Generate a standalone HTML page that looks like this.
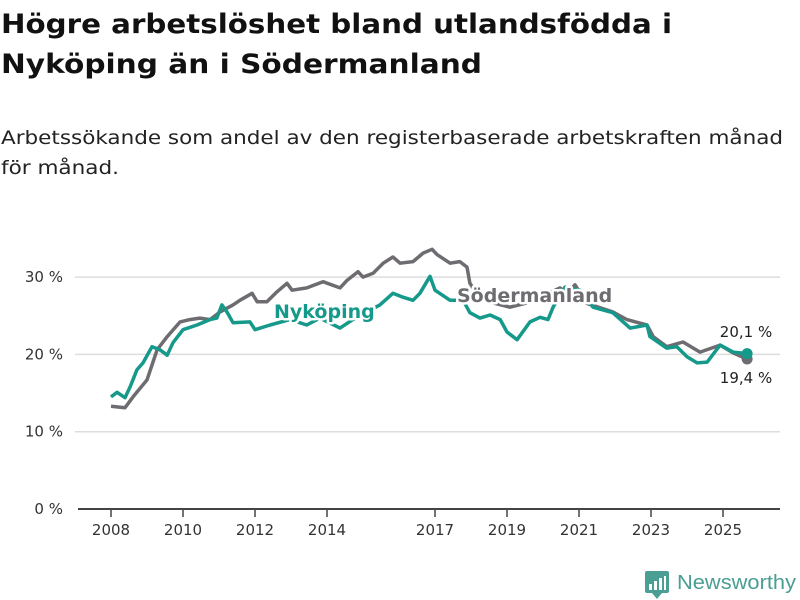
<!DOCTYPE html>
<html><head><meta charset="utf-8"><style>
body{margin:0;background:#fff;}
svg{display:block;font-family:"DejaVu Sans","Liberation Sans",sans-serif;}
.lbl{paint-order:stroke;stroke:#fff;stroke-width:5px;stroke-linejoin:round;}
</style></head><body>
<svg id="chart" width="800" height="600" viewBox="0 0 800 600">
<text x="1" y="33" font-size="27" font-weight="bold" fill="#111" textLength="671" lengthAdjust="spacingAndGlyphs">Högre arbetslöshet bland utlandsfödda i</text>
<text x="1" y="73" font-size="27" font-weight="bold" fill="#111" textLength="481" lengthAdjust="spacingAndGlyphs">Nyköping än i Södermanland</text>
<text x="1" y="144" font-size="19" fill="#222" textLength="782" lengthAdjust="spacingAndGlyphs">Arbetssökande som andel av den registerbaserade arbetskraften månad</text>
<text x="1" y="174" font-size="19" fill="#222" textLength="118" lengthAdjust="spacingAndGlyphs">för månad.</text>
<g id="grid"></g><g id="axes"></g><g id="series"></g><g id="labels"></g>
<g>
<rect x="645" y="571" width="24" height="22" rx="2" fill="#4a9e93"/>
<path d="M652 593 L657 599 L662 593 Z" fill="#4a9e93"/>
<rect x="649" y="584" width="3" height="6" fill="#fff"/><rect x="654" y="581" width="3" height="9" fill="#fff"/><rect x="659" y="578" width="3" height="12" fill="#fff"/><rect x="664" y="576" width="2" height="14" fill="#fff"/>
<text x="677" y="589" font-size="20" fill="#4a9e93" textLength="119" lengthAdjust="spacingAndGlyphs" font-family="Liberation Sans, sans-serif">Newsworthy</text>
</g>
</svg>
<script>
const yTicks=[0,10,20,30];
const yTickLabels=["0 %","10 %","20 %","30 %"];
const xTicks=[2008,2010,2012,2014,2017,2019,2021,2023,2025];
const sodYears=[2008.0,2008.39,2008.61,2009.0,2009.28,2009.56,2009.92,2010.19,2010.47,2010.75,2011.03,2011.39,2011.58,2011.92,2012.06,2012.33,2012.61,2012.89,2013.03,2013.44,2013.89,2014.36,2014.56,2014.86,2015.0,2015.28,2015.56,2015.83,2016.03,2016.39,2016.67,2016.92,2017.06,2017.42,2017.69,2017.89,2017.97,2018.25,2018.67,2019.08,2019.5,2020.06,2020.47,2020.67,2020.89,2021.22,2021.94,2022.33,2022.89,2023.06,2023.44,2023.89,2024.36,2024.92,2025.28,2025.67];
const sodValues=[13.3,13.1,14.5,16.7,20.6,22.3,24.2,24.5,24.7,24.5,25.5,26.4,27.0,27.9,26.8,26.8,28.1,29.2,28.3,28.6,29.4,28.6,29.6,30.7,30.0,30.5,31.8,32.6,31.8,32.0,33.1,33.6,32.9,31.8,32.0,31.3,29.2,27.3,26.6,26.1,26.6,27.7,28.6,27.9,29.0,26.6,25.5,24.5,23.8,22.3,21.0,21.6,20.3,21.2,20.2,19.4];
const nykYears=[2008.0,2008.17,2008.39,2008.53,2008.72,2008.89,2009.14,2009.36,2009.56,2009.72,2010.0,2010.39,2010.75,2010.94,2011.08,2011.22,2011.39,2011.86,2012.0,2012.42,2012.97,2013.44,2013.8,2014.36,2014.78,2015.47,2015.83,2016.11,2016.39,2016.58,2016.86,2017.0,2017.42,2017.78,2017.97,2018.25,2018.53,2018.81,2019.0,2019.28,2019.64,2019.92,2020.14,2020.28,2020.61,2021.03,2021.39,2021.94,2022.42,2022.89,2022.97,2023.44,2023.72,2024.0,2024.28,2024.56,2024.92,2025.28,2025.67];
const nykValues=[14.5,15.1,14.4,15.8,18.0,18.9,21.0,20.6,19.9,21.5,23.2,23.8,24.5,24.7,26.4,25.5,24.1,24.2,23.2,23.8,24.5,23.8,24.7,23.4,24.7,26.4,27.9,27.4,27.0,27.9,30.1,28.3,27.0,27.0,25.4,24.7,25.1,24.5,22.9,21.9,24.2,24.8,24.5,26.1,28.7,28.3,26.1,25.4,23.4,23.8,22.3,20.8,21.0,19.7,18.9,19.0,21.2,20.3,20.1];
const X=y=>111+(y-2008)*36;
const Y=v=>509-v*7.73;
const NS="http://www.w3.org/2000/svg";
function mk(tag,parent,attrs){const e=document.createElementNS(NS,tag);for(const k in attrs)e.setAttribute(k,attrs[k]);document.getElementById(parent).appendChild(e);return e;}
yTicks.forEach((t,i)=>{
  if(t>0){const g=mk('line','grid',{x1:75,x2:780,y1:Y(t),y2:Y(t),stroke:'#ddd','stroke-width':1.5});
  
  }
  const l=mk('text','axes',{x:63,y:Y(t)+5,'font-size':15,fill:'#333','text-anchor':'end'});
  l.textContent=yTickLabels[i];
  
  
});
const ax=mk('line','axes',{x1:78,x2:780,y1:509,y2:509,stroke:'#444','stroke-width':2});


xTicks.forEach(t=>{
  const tk=mk('line','axes',{x1:X(t),x2:X(t),y1:509,y2:517,stroke:'#444','stroke-width':1.5});
  
  
  const l=mk('text','axes',{x:X(t),y:535,'font-size':15,fill:'#333','text-anchor':'middle'});
  l.textContent=t;
  
  
});
function line(ys,vs,color,name){
  const d=ys.map((y,i)=>(i?'L':'M')+X(y).toFixed(1)+' '+Y(vs[i]).toFixed(1)).join(' ');
  const p=mk('path','series',{d:d,fill:'none',stroke:color,'stroke-width':3.5,'stroke-linejoin':'round'});
  
  
  const n=ys.length-1;
  const c=mk('circle','series',{cx:X(ys[n]),cy:Y(vs[n]),r:5.5,fill:color});
  
  
}
line(sodYears,sodValues,'#6e6c70','sodermanland-line');
line(nykYears,nykValues,'#15998a','nykoping-line');
function lbl(x,y,txt,color,size,weight,anchor,name){
  const t=mk('text','labels',{x:x,y:y,'font-size':size,'font-weight':weight,fill:color,'text-anchor':anchor,class:'lbl'});
  t.textContent=txt;
  
  
}
lbl(274,318,'Nyköping','#15998a',19,'bold','start','nykoping-label');
lbl(457,302,'Södermanland','#6e6c70',19,'bold','start','sodermanland-label');
lbl(746,337,'20,1 %','#222',15,'normal','middle','nykoping-end-value');
lbl(746,383,'19,4 %','#222',15,'normal','middle','sodermanland-end-value');
</script>
</body></html>
